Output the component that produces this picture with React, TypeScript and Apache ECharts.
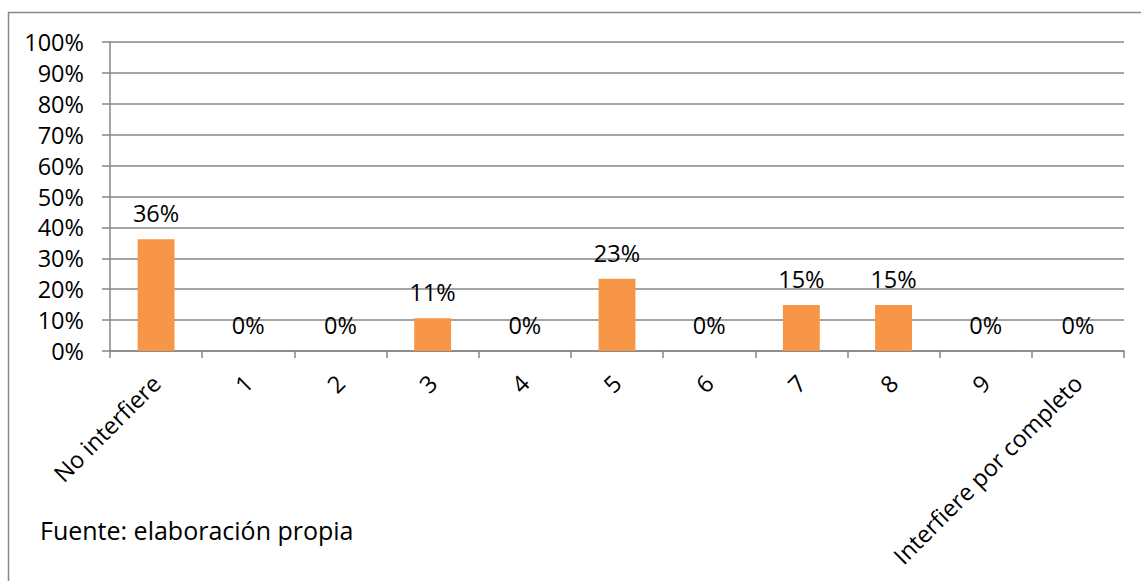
import React, { useEffect, useRef } from "react";
import * as echarts from "echarts";

const categories = ["No interfiere", "1", "2", "3", "4", "5", "6", "7", "8", "9", "Interfiere por completo"];
const values = [0.362, 0, 0, 0.106, 0, 0.234, 0, 0.149, 0.149, 0, 0];
const yTicks = [0, 0.1, 0.2, 0.3, 0.4, 0.5, 0.6, 0.7, 0.8, 0.9, 1];
const sourceNote = "Fuente: elaboración propia";

const FONT = "'Open Sans', 'Noto Sans', sans-serif";
const FS = 23.5;

export default function App() {
  const ref = useRef<HTMLDivElement>(null);
  useEffect(() => {
    document.body.style.margin = "0";
    const chart = echarts.init(ref.current!, null, { renderer: "svg" });
    chart.setOption({
      animation: false,
      backgroundColor: "#ffffff",
      textStyle: { fontFamily: FONT },
      grid: { left: 110, right: 17, top: 42, bottom: 230, containLabel: false },
      graphic: [
        {
          type: "rect",
          shape: { x: 8.5, y: 12.5, width: 1200, height: 700 },
          style: { fill: "none", stroke: "#888888", lineWidth: 1.5 },
          silent: true,
          z: 100,
        },
        {
          type: "text",
          left: 40,
          top: 517,
          style: { text: sourceNote, font: `25px ${FONT}`, fill: "#000000" },
        },
      ],
      xAxis: {
        type: "category",
        data: categories,
        axisLine: { lineStyle: { color: "#868686", width: 1.5 } },
        axisTick: { show: true, length: 7, lineStyle: { color: "#868686", width: 1.5 } },
        axisLabel: {
          rotate: 45,
          interval: 0,
          margin: 28,
          color: "#000000",
          fontSize: FS,
          fontFamily: FONT,
        },
      },
      yAxis: {
        type: "value",
        min: 0,
        max: 1,
        interval: 0.1,
        axisLine: { show: true, lineStyle: { color: "#868686", width: 1.5 } },
        axisTick: { show: true, length: 8, lineStyle: { color: "#868686", width: 1.5 } },
        splitLine: { show: true, lineStyle: { color: "#868686", width: 1.5 } },
        axisLabel: {
          margin: 26,
          color: "#000000",
          fontSize: FS,
          fontFamily: FONT,
          formatter: (v: number) => (yTicks.includes(Math.round(v * 10) / 10) ? `${Math.round(v * 100)}%` : ""),
        },
      },
      series: [
        {
          type: "bar",
          data: values,
          barWidth: "40%",
          itemStyle: { color: "#F79646" },
          label: {
            show: true,
            position: "top",
            distance: 14,
            color: "#000000",
            fontSize: FS,
            fontFamily: FONT,
            formatter: (p: any) => `${Math.round(p.value * 100)}%`,
          },
        },
      ],
    });
    return () => chart.dispose();
  }, []);
  return <div ref={ref} style={{ width: 1141, height: 581 }} />;
}
